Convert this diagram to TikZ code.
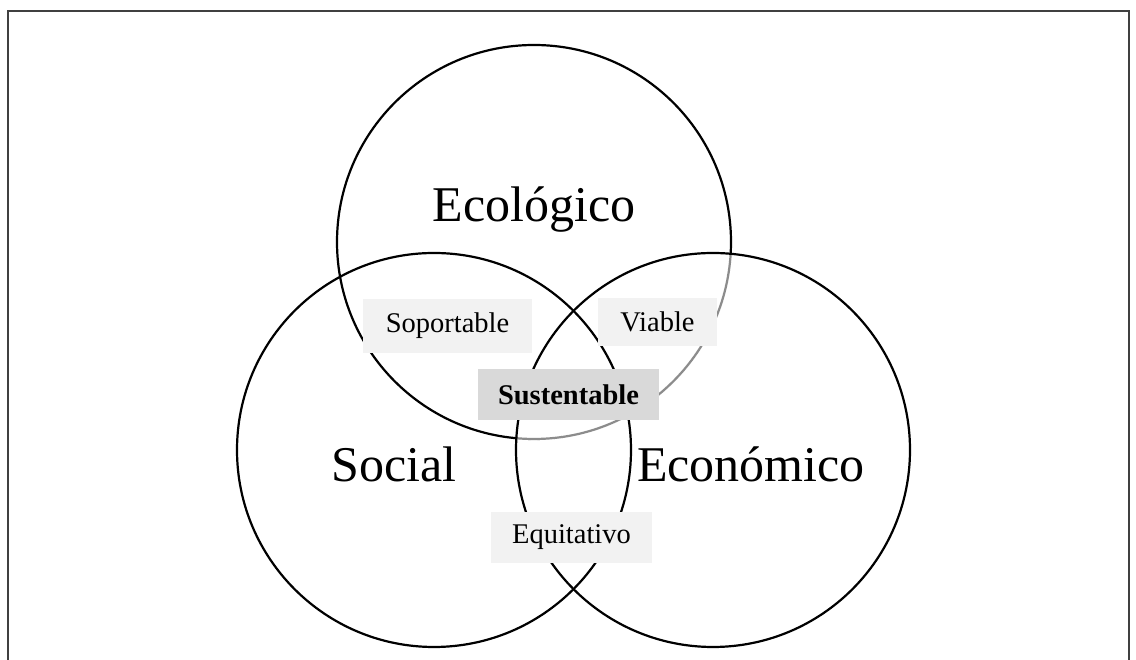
\documentclass[tikz,border=0pt]{standalone}
\usepackage{fontspec}
\setmainfont{Liberation Serif}
\definecolor{framec}{HTML}{404040}
\definecolor{arcgray}{HTML}{8C8C8C}
\definecolor{boxlight}{HTML}{F2F2F2}
\definecolor{boxdark}{HTML}{D9D9D9}
\begin{document}
\begin{tikzpicture}[x=1pt,y=1pt,
  ring/.style={line width=2.2pt},
  big/.style={font=\fontsize{50}{60}\selectfont, anchor=base, inner sep=0pt},
  tag/.style={fill=boxlight, font=\fontsize{28.5}{34}\selectfont, inner sep=0pt},
  keytag/.style={fill=boxdark, font=\fontsize{28.5}{34}\selectfont\bfseries, inner sep=0pt}]
\useasboundingbox (0,0) rectangle (1136,660);
% frame
\coordinate (fbl) at (8,0);
\coordinate (ftl) at (8,649);
\coordinate (ftr) at (1129,649);
\coordinate (fbr) at (1129,0);
\draw[framec, line width=1.4pt] (fbl) -- (ftl) -- (ftr) -- (fbr);
% circle centres
\coordinate (cE) at (534,418);
\coordinate (cS) at (434,210);
\coordinate (cC) at (713,210);
% circles
\draw[ring] (cE) circle (197);
\begin{scope}
  \clip (cC) circle (197);
  \draw[white, line width=3.6pt] (cE) circle (197);
  \draw[ring, arcgray] (cE) circle (197);
\end{scope}
\draw[ring] (cS) circle (197);
\draw[ring] (cC) circle (197);
% big labels
\node[big] (eco) at (534,438) {Ecológico};
\node[big] (soc) at (394,178) {Social};
\node[big] (econ) at (751,178) {Económico};
% small labels
\node[tag, minimum width=169, minimum height=54] (sop) at (447.5,334) {Soportable};
\node[tag, minimum width=119, minimum height=48] (via) at (657.5,338) {Viable};
\node[keytag, minimum width=181, minimum height=51] (sus) at (568.5,265.5) {Sustentable};
\node[tag, minimum width=161, minimum height=51] (equ) at (571.5,122.5) {Equitativo};
\end{tikzpicture}
\end{document}
